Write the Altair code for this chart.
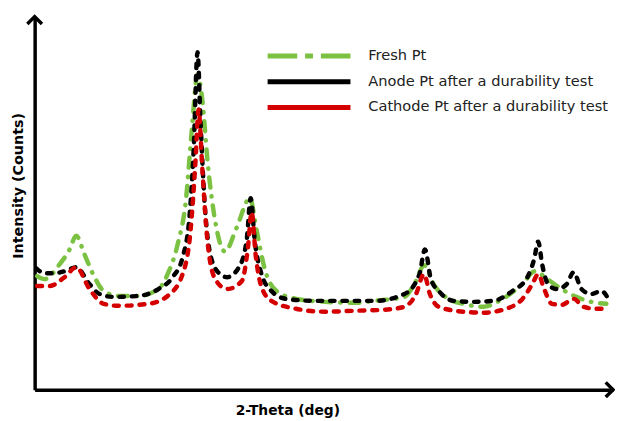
import altair as alt
import pandas as pd

series_names = ["Fresh Pt", "Anode Pt after a durability test", "Cathode Pt after a durability test"]

fresh_x = [20.5, 21.4, 23.2, 24.4, 25.2, 26.2, 27.4, 28.5, 30.3, 32.7, 35.1, 36.2, 37.4, 38.4, 39.1, 39.8,
           40.4, 41.0, 41.9, 43.1, 44.5, 46.1, 46.9, 47.9, 49.3, 51.7, 55.2, 58.8, 61.1, 64.7, 65.9, 67.1,
           68.2, 70.0, 71.8, 74.2, 76.5, 78.9, 80.4, 81.9, 83.6, 85.4, 87.2, 89.0]
fresh_y = [115, 112, 127, 142, 156, 137, 114, 100, 95, 95, 102, 117, 147, 192, 262, 319,
           292, 232, 172, 140, 164, 194, 162, 122, 100, 92, 89, 88, 90, 94, 107, 126,
           107, 92, 87, 84, 92, 107, 120, 112, 102, 94, 89, 87]

anode_x = [20.4, 21.4, 22.6, 23.8, 25.2, 26.8, 28.0, 29.7, 32.7, 35.1, 36.8, 38.0, 38.85, 39.33, 39.8,
           40.16, 40.63, 41.22, 42.17, 43.35, 44.78, 45.72, 46.2, 46.67, 47.5, 48.69, 50.46, 54.0, 56.4,
           61.1, 64.7, 66.5, 67.17, 67.88, 68.83, 70.6, 73.0, 75.35, 77.7, 79.5, 80.3, 80.8, 81.27, 81.98,
           83.05, 84.23, 85.06, 86.0, 87.2, 88.4, 89.1]
anode_y = [123, 118, 118, 120, 124, 107, 97, 94, 95, 102, 114, 134, 177, 242, 342,
           272, 192, 142, 120, 114, 124, 152, 194, 152, 117, 100, 92, 90, 90,
           90, 97, 117, 142, 112, 100, 90, 89, 90, 100, 114, 132, 150, 127, 107,
           102, 107, 119, 102, 97, 100, 94]

cathode_x = [20.5, 22.0, 23.8, 25.2, 26.8, 28.5, 30.3, 33.9, 36.2, 38.0, 38.97, 39.56, 39.92, 40.39,
             40.98, 41.93, 43.35, 45.13, 45.84, 46.32, 46.79, 47.5, 48.69, 51.65, 55.2, 58.76, 62.31,
             64.68, 66.1, 67.05, 67.76, 68.83, 71.79, 74.16, 76.53, 78.9, 80.08, 80.8, 81.51, 82.45,
             83.64, 85.06, 86.24, 87.78, 88.97]
cathode_y = [105, 105, 114, 124, 102, 87, 85, 87, 95, 117, 162, 232, 284, 222,
             152, 112, 102, 110, 142, 180, 137, 104, 90, 82, 79, 80, 81,
             84, 97, 117, 97, 84, 79, 78, 81, 92, 107, 117, 102, 87,
             86, 92, 84, 82, 82]

x_domain = [20.2, 89.8]
y_domain = [0, 378]

rows = []
for name, xs, ys in zip(series_names, [fresh_x, anode_x, cathode_x], [fresh_y, anode_y, cathode_y]):
    for i, (a, b) in enumerate(zip(xs, ys)):
        rows.append({"series": name, "theta": a, "intensity": b, "order": i})
df = pd.DataFrame(rows)

colors = ["#7cc242", "#000000", "#d40000"]
dashes = [[10, 9, 0.5, 9], [4.5, 8], [5, 8]]

x_enc = alt.X("theta:Q", scale=alt.Scale(domain=x_domain, nice=False, zero=False),
              axis=alt.Axis(title="2-Theta (deg)", labels=False, ticks=False, grid=False,
                            domainColor="black", domainWidth=3.5,
                            titleFont="DejaVu Sans", titleFontSize=14, titleFontWeight="bold", titleColor="black",
                            titleX=256, titleY=14, titleAlign="center", titleBaseline="top"))
y_enc = alt.Y("intensity:Q", scale=alt.Scale(domain=y_domain, nice=False, zero=False),
              axis=alt.Axis(title="Intensity (Counts)", labels=False, ticks=False, grid=False,
                            domainColor="black", domainWidth=3.5,
                            titleFont="DejaVu Sans", titleFontSize=14.5, titleFontWeight="bold", titleColor="black",
                            titleX=-16, titleY=171, titleAlign="center", titleBaseline="middle", titleAngle=270))

legend = alt.Legend(
    title=None, orient="none", legendX=267, legendY=29,
    symbolType="M -5 0 L 5 0", symbolSize=282, symbolStrokeWidth=5,
    symbolDash={"expr": "datum.value === 'Fresh Pt' ? [30, 8, 8, 8] : [1, 0]"},
    labelFont="DejaVu Sans", labelFontSize=14.8, labelColor="#222222",
    labelOffset=49, rowPadding=5, labelLimit=400, padding=0,
)

color_enc = alt.Color("series:N", scale=alt.Scale(domain=series_names, range=colors), legend=legend)

layers = []
for name, dash in zip(series_names, dashes):
    layers.append(
        alt.Chart(df).transform_filter(alt.datum.series == name)
        .mark_line(strokeWidth=4.5, strokeCap="round", interpolate="monotone", strokeDash=dash)
        .encode(x=x_enc, y=y_enc, color=color_enc, order="order:Q")
    )

arrows = pd.DataFrame({
    "theta": [x_domain[0], x_domain[1]],
    "intensity": [y_domain[1], y_domain[0]],
    "kind": ["up", "right"],
})

up = alt.Chart(arrows[arrows.kind == "up"]).mark_point(
    shape="M -1 1 L 0 0 L 1 1", size=220, filled=False, stroke="black", strokeWidth=3.5, opacity=1
).encode(x="theta:Q", y="intensity:Q")
right = alt.Chart(arrows[arrows.kind == "right"]).mark_point(
    shape="M -1 -1 L 0 0 L -1 1", size=220, filled=False, stroke="black", strokeWidth=3.5, opacity=1
).encode(x="theta:Q", y="intensity:Q")

chart = alt.layer(*layers, up, right).properties(
    width=586, height=378,
    autosize=alt.AutoSizeParams(type="none"),
    padding={"left": 27, "top": 6, "right": 2, "bottom": 29},
).configure_view(stroke=None)

chart.save("out.html", embed_options={"renderer": "svg", "actions": False})
